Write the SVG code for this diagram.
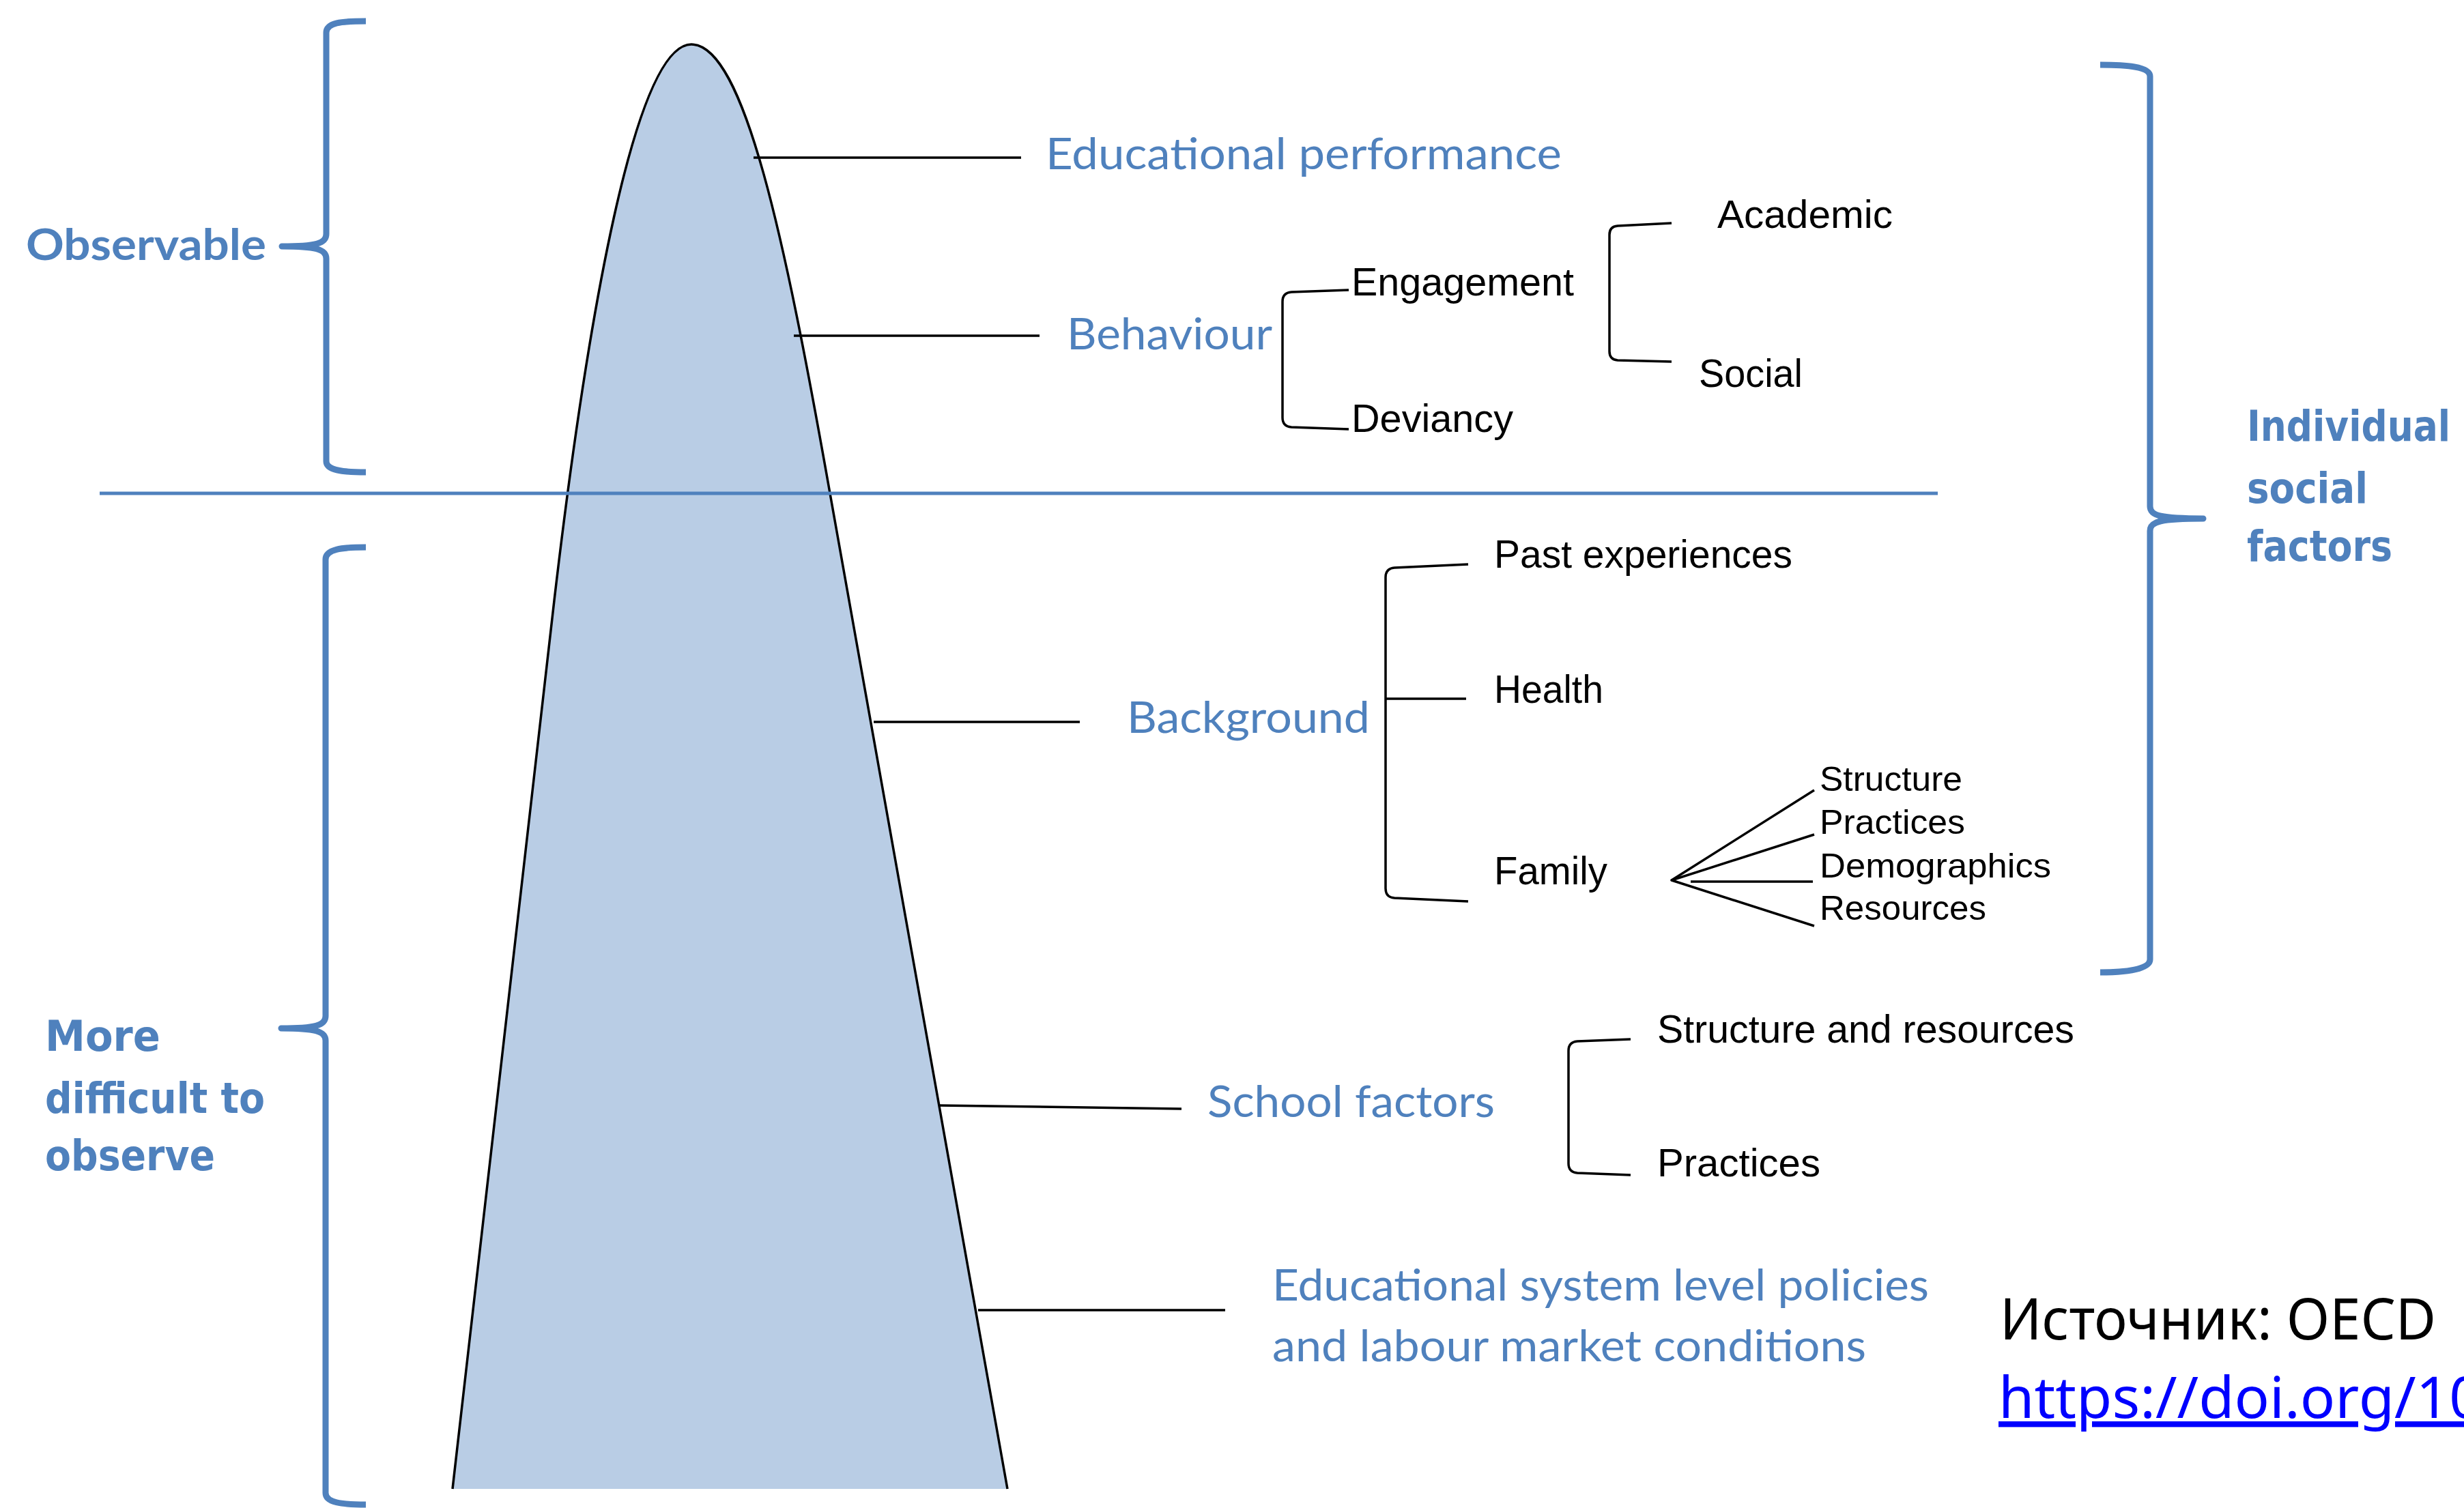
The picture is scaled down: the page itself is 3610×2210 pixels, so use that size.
<svg xmlns="http://www.w3.org/2000/svg" width="3610" height="2210" viewBox="0 0 3610 2210">
  <style>
    .blue { fill: #4f81bd; font-family: Lato, "Open Sans", "Liberation Sans", sans-serif; font-size: 64px; }
    .bluebold { fill: #4f81bd; font-family: Lato, "Open Sans", "Liberation Sans", sans-serif; font-size: 64px; font-weight: bold; }
    .wide { fill: #4f81bd; font-family: "DejaVu Sans", "Liberation Sans", sans-serif; font-size: 62px; font-weight: bold; }
    .blk { fill: #000000; font-family: "Liberation Sans", Arial, sans-serif; font-size: 57px; }
    .small { fill: #000000; font-family: "Liberation Sans", Arial, sans-serif; font-size: 50px; }
    .src { fill: #000000; font-family: "Noto Sans", "Open Sans", sans-serif; font-size: 84px; }
    .url { fill: #0000ff; font-family: "Noto Sans", "Open Sans", sans-serif; font-size: 84px; text-decoration: underline; }
    .conn { stroke: #000000; stroke-width: 3.5; fill: none; }
    .brk { stroke: #000000; stroke-width: 3.5; fill: none; stroke-linejoin: round; }
    .brace { stroke: #4f81bd; stroke-width: 9; fill: none; stroke-linejoin: round; stroke-linecap: butt; }
  </style>

  <g id="mountain">
    <path d="M 663 2182 L 812 880 C 860 470 930 65 1013 65 C 1090 65 1150 350 1216 723 L 1476 2182 Z" fill="#b9cde5" stroke="none"/>
    <path d="M 663 2182 L 812 880 C 860 470 930 65 1013 65 C 1090 65 1150 350 1216 723 L 1476 2182" fill="none" stroke="#000000" stroke-width="3.5"/>
  </g>

  <g id="divider">
    <line x1="146" y1="723" x2="2839" y2="723" stroke="#4f81bd" stroke-width="5"/>
  </g>

  <g id="brace-observable">
    <path class="brace" d="M 536 31 C 500 31 478 33 478 48 L 478 343 C 478 357 462 361 413 361 C 462 361 478 365 478 379 L 478 676 C 478 689 500 692 536 692"/>
  </g>
  <g id="brace-difficult">
    <path class="brace" d="M 536 802 C 500 802 477 805 477 820 L 477 1489 C 477 1503 461 1507 412 1507 C 461 1507 477 1511 477 1525 L 477 2188 C 477 2202 500 2205 536 2205"/>
  </g>
  <g id="brace-individual">
    <path class="brace" d="M 3077 95 C 3113 95 3150 97 3150 112 L 3150 742 C 3150 756 3166 760 3228 760 C 3166 760 3150 764 3150 778 L 3150 1406 C 3150 1421 3113 1425 3077 1425"/>
  </g>

  <g id="label-observable">
    <text class="bluebold" x="38" y="381" textLength="352" lengthAdjust="spacingAndGlyphs">Observable</text>
  </g>
  <g id="label-difficult">
    <text class="wide" x="66" y="1540" textLength="169" lengthAdjust="spacingAndGlyphs">More</text>
    <text class="wide" x="66" y="1631" textLength="322" lengthAdjust="spacingAndGlyphs">difficult to</text>
    <text class="wide" x="66" y="1715" textLength="249" lengthAdjust="spacingAndGlyphs">observe</text>
  </g>
  <g id="label-individual">
    <text class="wide" x="3292" y="646" textLength="298" lengthAdjust="spacingAndGlyphs">Individual</text>
    <text class="wide" x="3292" y="737" textLength="177" lengthAdjust="spacingAndGlyphs">social</text>
    <text class="wide" x="3292" y="822" textLength="213" lengthAdjust="spacingAndGlyphs">factors</text>
  </g>

  <g id="connectors">
    <line class="conn" x1="1104" y1="231" x2="1496" y2="231"/>
    <line class="conn" x1="1163" y1="492" x2="1523" y2="492"/>
    <line class="conn" x1="1280" y1="1058" x2="1582" y2="1058"/>
    <line class="conn" x1="1375" y1="1620" x2="1731" y2="1625"/>
    <line class="conn" x1="1433" y1="1920" x2="1795" y2="1920"/>
    <path class="brk" d="M 1976 425 L 1892 428 Q 1879 429 1879 442 L 1879 612 Q 1879 625 1892 626 L 1976 629"/>
    <path class="brk" d="M 2449 327 L 2370 331 Q 2358 332 2358 344 L 2358 515 Q 2358 527 2370 528 L 2449 530"/>
    <path class="brk" d="M 2151 827 L 2043 832 Q 2030 833 2030 846 L 2030 1302 Q 2030 1315 2043 1316 L 2151 1321"/>
    <line class="conn" x1="2030" y1="1024" x2="2148" y2="1024"/>
    <path class="brk" d="M 2389 1523 L 2311 1526 Q 2298 1527 2298 1540 L 2298 1705 Q 2298 1718 2311 1719 L 2389 1722"/>
    <path class="brk" d="M 2658 1158 L 2449 1290 L 2658 1357"/>
    <line class="conn" x1="2449" y1="1290" x2="2658" y2="1223"/>
    <line class="conn" x1="2477" y1="1292" x2="2656" y2="1292"/>
  </g>

  <g id="node-educational-performance">
    <text class="blue" x="1532" y="248" textLength="756" lengthAdjust="spacingAndGlyphs">Educational performance</text>
  </g>
  <g id="node-behaviour">
    <text class="blue" x="1563" y="512" textLength="301" lengthAdjust="spacingAndGlyphs">Behaviour</text>
  </g>
  <g id="node-engagement">
    <text class="blk" x="1980" y="433" textLength="326" lengthAdjust="spacingAndGlyphs">Engagement</text>
  </g>
  <g id="node-deviancy">
    <text class="blk" x="1980" y="633" textLength="237" lengthAdjust="spacingAndGlyphs">Deviancy</text>
  </g>
  <g id="node-academic">
    <text class="blk" x="2516" y="334" textLength="257" lengthAdjust="spacingAndGlyphs">Academic</text>
  </g>
  <g id="node-social">
    <text class="blk" x="2489" y="567" textLength="152" lengthAdjust="spacingAndGlyphs">Social</text>
  </g>
  <g id="node-background">
    <text class="blue" x="1651" y="1074" textLength="356" lengthAdjust="spacingAndGlyphs">Background</text>
  </g>
  <g id="node-past-experiences">
    <text class="blk" x="2189" y="832" textLength="437" lengthAdjust="spacingAndGlyphs">Past experiences</text>
  </g>
  <g id="node-health">
    <text class="blk" x="2189" y="1030" textLength="160" lengthAdjust="spacingAndGlyphs">Health</text>
  </g>
  <g id="node-family">
    <text class="blk" x="2189" y="1296" textLength="166" lengthAdjust="spacingAndGlyphs">Family</text>
  </g>
  <g id="node-family-structure">
    <text class="small" x="2666" y="1159" textLength="209" lengthAdjust="spacingAndGlyphs">Structure</text>
  </g>
  <g id="node-family-practices">
    <text class="small" x="2666" y="1222" textLength="213" lengthAdjust="spacingAndGlyphs">Practices</text>
  </g>
  <g id="node-family-demographics">
    <text class="small" x="2666" y="1286" textLength="339" lengthAdjust="spacingAndGlyphs">Demographics</text>
  </g>
  <g id="node-family-resources">
    <text class="small" x="2666" y="1348" textLength="244" lengthAdjust="spacingAndGlyphs">Resources</text>
  </g>
  <g id="node-school-factors">
    <text class="blue" x="1769" y="1637" textLength="421" lengthAdjust="spacingAndGlyphs">School factors</text>
  </g>
  <g id="node-structure-resources">
    <text class="blk" x="2428" y="1528" textLength="611" lengthAdjust="spacingAndGlyphs">Structure and resources</text>
  </g>
  <g id="node-school-practices">
    <text class="blk" x="2428" y="1724" textLength="239" lengthAdjust="spacingAndGlyphs">Practices</text>
  </g>
  <g id="node-system-level">
    <text class="blue" x="1864" y="1906" textLength="962" lengthAdjust="spacingAndGlyphs">Educational system level policies</text>
    <text class="blue" x="1864" y="1995" textLength="870" lengthAdjust="spacingAndGlyphs">and labour market conditions</text>
  </g>

  <g id="source">
    <text class="src" x="2930" y="1963" textLength="639" lengthAdjust="spacingAndGlyphs">Источник: OECD</text>
    <text class="url" x="2928" y="2078" textLength="709" lengthAdjust="spacingAndGlyphs">https://doi.org/10</text>
  </g>
</svg>
